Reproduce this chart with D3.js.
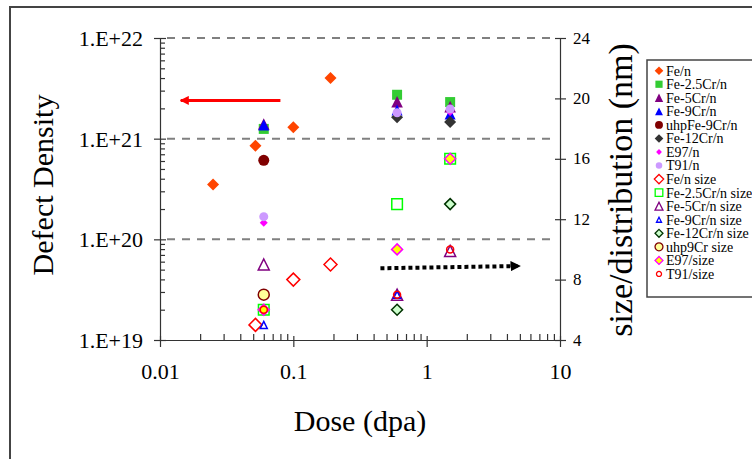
<!DOCTYPE html>
<html><head><meta charset="utf-8">
<script src="https://cdn.jsdelivr.net/npm/d3@7"></script>
<style>html,body{margin:0;padding:0;background:#fff;overflow:hidden}svg{display:block}</style>
</head><body>
<svg id="c" width="752" height="459"></svg>
<script>
// ---------- data ----------
const xTicks = [0.01, 0.1, 1, 10];
const xTickLabels = ["0.01", "0.1", "1", "10"];
const yLeftTicks = [1e19, 1e20, 1e21, 1e22];
const yLeftTickLabels = ["1.E+19", "1.E+20", "1.E+21", "1.E+22"];
const yRightTicks = [4, 8, 12, 16, 20, 24];
const yRightTickLabels = ["4", "8", "12", "16", "20", "24"];

// defect density series (left axis)
const feN_dose = [0.025, 0.052, 0.1, 0.19];
const feN_val = [3.5e20, 8.5e20, 1.3e21, 4.0e21];
const fe25N_dose = [0.06, 0.6, 1.5];
const fe25N_val = [1.25e21, 2.73e21, 2.31e21];
const fe5N_dose = [0.06, 0.6, 1.5];
const fe5N_val = [1.4e21, 2.33e21, 2.08e21];
const fe9N_dose = [0.06, 0.6, 1.5];
const fe9N_val = [1.37e21, 1.93e21, 1.76e21];
const uhp9N_dose = [0.06];
const uhp9N_val = [6.1e20];
const fe12N_dose = [0.6, 1.5];
const fe12N_val = [1.63e21, 1.46e21];
const e97N_dose = [0.06, 0.6, 1.5];
const e97N_val = [1.46e20, 1.8e21, 1.84e21];
const t91N_dose = [0.06, 0.6, 1.5];
const t91N_val = [1.68e20, 1.81e21, 1.97e21];

// size series (right axis, nm)
const feS_dose = [0.052, 0.1, 0.19];
const feS_val = [5, 8, 9];
const fe25S_dose = [0.06, 0.6, 1.5];
const fe25S_val = [6, 13, 16];
const fe5S_dose = [0.06, 0.6, 1.5];
const fe5S_val = [9, 7, 9.9];
const fe9S_dose = [0.06, 0.6];
const fe9S_val = [5, 7];
const fe12S_dose = [0.6, 1.5];
const fe12S_val = [6, 13];
const uhp9S_dose = [0.06];
const uhp9S_val = [7];
const e97S_dose = [0.06, 0.6, 1.5];
const e97S_val = [6, 10, 16];
const t91S_dose = [0.06, 0.6, 1.5];
const t91S_val = [6, 7, 10];

const seriesNames = ["Fe/n","Fe-2.5Cr/n","Fe-5Cr/n","Fe-9Cr/n","uhpFe-9Cr/n","Fe-12Cr/n","E97/n","T91/n",
  "Fe/n size","Fe-2.5Cr/n size","Fe-5Cr/n size","Fe-9Cr/n size","Fe-12Cr/n size","uhp9Cr size","E97/size","T91/size"];
const seriesX = [feN_dose, fe25N_dose, fe5N_dose, fe9N_dose, uhp9N_dose, fe12N_dose, e97N_dose, t91N_dose,
  feS_dose, fe25S_dose, fe5S_dose, fe9S_dose, fe12S_dose, uhp9S_dose, e97S_dose, t91S_dose];
const seriesY = [feN_val, fe25N_val, fe5N_val, fe9N_val, uhp9N_val, fe12N_val, e97N_val, t91N_val,
  feS_val, fe25S_val, fe5S_val, fe9S_val, fe12S_val, uhp9S_val, e97S_val, t91S_val];
const seriesAxis = ["L","L","L","L","L","L","L","L","R","R","R","R","R","R","R","R"];

// ---------- styles ----------
const styles = [
  {shape:"diamond", s:6, fill:"#FF4500", stroke:"none"},
  {shape:"square", s:5, fill:"#33CC33", stroke:"none"},
  {shape:"triangle", s:5.8, fill:"#800080", stroke:"none"},
  {shape:"triangle", s:5.5, fill:"#0000FF", stroke:"none"},
  {shape:"circle", s:5.5, fill:"#800000", stroke:"none"},
  {shape:"diamond", s:6, fill:"#333333", stroke:"none"},
  {shape:"diamond", s:4, fill:"#FF00FF", stroke:"none"},
  {shape:"circle", s:4.5, fill:"#CC99FF", stroke:"none"},
  {shape:"diamond", s:6.5, fill:"none", stroke:"#FF0000"},
  {shape:"square", s:5.3, fill:"none", stroke:"#00FF00"},
  {shape:"triangle", s:5.5, fill:"none", stroke:"#800080"},
  {shape:"triangle", s:3.5, fill:"none", stroke:"#0000FF"},
  {shape:"diamond", s:5.5, fill:"#CCFFCC", stroke:"#003300"},
  {shape:"circle", s:5.5, fill:"#FFFF99", stroke:"#800000"},
  {shape:"diamond", s:5.5, fill:"#FFFF00", stroke:"#FF00FF"},
  {shape:"circle", s:3.5, fill:"none", stroke:"#FF0000"}
];

function markerPath(shape, s) {
  if (shape === "diamond") return `M0,${-s}L${s},0L0,${s}L${-s},0Z`;
  if (shape === "square") return `M${-s},${-s}H${s}V${s}H${-s}Z`;
  if (shape === "triangle") return `M0,${-s}L${s},${s}L${-s},${s}Z`;
  const p = d3.path(); p.arc(0, 0, s, 0, 2 * Math.PI); p.closePath(); return p.toString();
}

const svg = d3.select("#c");
const FONT = "'Liberation Serif','Times New Roman',serif";
const axisColor = "#333";

// outer frame
svg.append("rect").attr("x", 10).attr("y", 7).attr("width", 800).attr("height", 500)
  .attr("fill", "none").attr("stroke", "#444").attr("stroke-width", 2);

// scales
const x = d3.scaleLog().domain([0.01, 10]).range([160, 560]);
const yL = d3.scaleLog().domain([1e19, 1e22]).range([340, 38]);
const yR = d3.scaleLinear().domain([4, 24]).range([340, 38]);

// gridlines (dashed) at left-axis decades
svg.append("g").selectAll("line").data([1e20, 1e21, 1e22]).join("line")
  .attr("x1", x(0.01) + 7).attr("x2", x(10) - 6)
  .attr("y1", d => yL(d)).attr("y2", d => yL(d))
  .attr("stroke", "#808080").attr("stroke-width", 2).attr("stroke-dasharray", "8,7");

// minor tick values
const minorX = [], minorY = [];
[0.01, 0.1, 1].forEach(b => { for (let k = 2; k <= 9; k++) minorX.push(b * k); });
[1e19, 1e20, 1e21].forEach(b => { for (let k = 2; k <= 9; k++) minorY.push(b * k); });

// X axis
const gx = svg.append("g").attr("transform", `translate(0,${yL(1e19)})`);
gx.call(d3.axisBottom(x).tickValues(minorX).tickSize(-6).tickFormat(""));
gx.call(g => g.select(".domain").remove());
const gx2 = svg.append("g").attr("transform", `translate(0,${yL(1e19)})`);
gx2.call(d3.axisBottom(x).tickValues(xTicks).tickSizeInner(7).tickSizeOuter(0).tickPadding(16)
  .tickFormat((d, i) => xTickLabels[i]));
gx2.selectAll(".tick line").attr("y1", -4);
gx2.selectAll("text").attr("font-family", FONT).attr("font-size", 22).attr("fill", "#000");

// Left Y axis
const gy = svg.append("g").attr("transform", `translate(${x(0.01)},0)`);
gy.call(d3.axisLeft(yL).tickValues(minorY).tickSize(-5).tickFormat(""));
gy.call(g => g.select(".domain").remove());
const gy2 = svg.append("g").attr("transform", `translate(${x(0.01)},0)`);
gy2.call(d3.axisLeft(yL).tickValues(yLeftTicks).tickSizeInner(6).tickSizeOuter(0).tickPadding(11)
  .tickFormat((d, i) => yLeftTickLabels[i]));
gy2.selectAll(".tick line").attr("x1", 6);
gy2.selectAll("text").attr("font-family", FONT).attr("font-size", 22).attr("fill", "#000").attr("dy", "0.34em");

// Right Y axis
const gr = svg.append("g").attr("transform", `translate(${x(10)},0)`);
gr.call(d3.axisRight(yR).tickValues(yRightTicks).tickSizeInner(6).tickSizeOuter(0).tickPadding(7)
  .tickFormat((d, i) => yRightTickLabels[i]));
gr.selectAll(".tick line").attr("x1", -5);
gr.selectAll("text").attr("font-family", FONT).attr("font-size", 17).attr("fill", "#000").attr("dy", "0.3em");

svg.selectAll(".domain, .tick line").attr("stroke", axisColor).attr("stroke-width", 1.2);

// axis titles
svg.append("text").attr("transform", "translate(53,185) rotate(-90)").attr("text-anchor", "middle")
  .attr("font-family", FONT).attr("font-size", 30).text("Defect Density");
svg.append("text").attr("transform", "translate(632,190) rotate(-90)").attr("text-anchor", "middle")
  .attr("font-family", FONT).attr("font-size", 34).text("size/distribution (nm)");
svg.append("text").attr("x", 360).attr("y", 431).attr("text-anchor", "middle")
  .attr("font-family", FONT).attr("font-size", 30).text("Dose (dpa)");

// points
const gp = svg.append("g");
seriesNames.forEach((name, i) => {
  const st = styles[i];
  const ys = seriesAxis[i] === "L" ? yL : yR;
  const pts = seriesX[i].map((d, j) => [d, seriesY[i][j]]);
  gp.append("g").selectAll("path").data(pts).join("path")
    .attr("transform", d => `translate(${x(d[0])},${ys(d[1])})`)
    .attr("d", markerPath(st.shape, st.s))
    .attr("fill", st.fill).attr("stroke", st.stroke).attr("stroke-width", st.stroke === "none" ? 0 : 1.5);
});

// arrows
const defs = svg.append("defs");
defs.append("marker").attr("id", "ahR").attr("viewBox", "0 0 10 10").attr("refX", 9).attr("refY", 5)
  .attr("markerWidth", 3).attr("markerHeight", 3).attr("orient", "auto").attr("markerUnits", "strokeWidth")
  .append("path").attr("d", "M0,0L10,5L0,10Z").attr("fill", "#FF0000");
defs.append("marker").attr("id", "ahK").attr("viewBox", "0 0 10 10").attr("refX", 9).attr("refY", 5)
  .attr("markerWidth", 2.6).attr("markerHeight", 2.6).attr("orient", "auto").attr("markerUnits", "strokeWidth")
  .append("path").attr("d", "M0,0L10,5L0,10Z").attr("fill", "#000");
svg.append("line").attr("x1", x(0.08)).attr("y1", yL(2.4e21)).attr("x2", x(0.0143)).attr("y2", yL(2.4e21))
  .attr("stroke", "#FF0000").attr("stroke-width", 3).attr("marker-end", "url(#ahR)");
svg.append("line").attr("x1", x(0.45)).attr("y1", yR(8.75)).attr("x2", x(5.0)).attr("y2", yR(8.9))
  .attr("stroke", "#000").attr("stroke-width", 4).attr("stroke-dasharray", "4,3").attr("marker-end", "url(#ahK)");

// legend
const lg = svg.append("g");
lg.append("rect").attr("x", 647).attr("y", 60).attr("width", 120).attr("height", 237)
  .attr("fill", "#fff").attr("stroke", "#444").attr("stroke-width", 1.5);
seriesNames.forEach((name, i) => {
  const st = styles[i];
  const yy = 70.7 + i * 13.55;
  lg.append("path").attr("transform", `translate(659,${yy})`)
    .attr("d", markerPath(st.shape, st.s * 0.72))
    .attr("fill", st.fill).attr("stroke", st.stroke).attr("stroke-width", st.stroke === "none" ? 0 : 1.3);
  lg.append("text").attr("x", 666).attr("y", yy).attr("dy", "0.35em")
    .attr("font-family", FONT).attr("font-size", 14).text(name);
});
</script>
</body></html>
